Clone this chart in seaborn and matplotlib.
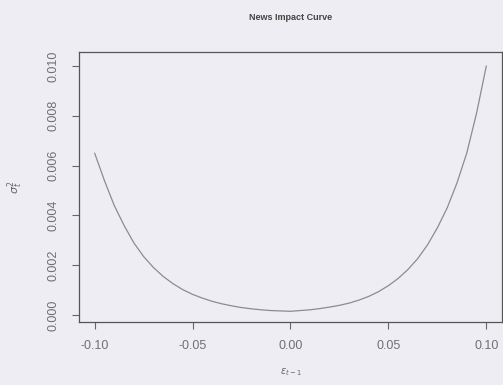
import matplotlib
matplotlib.use('Agg')
import matplotlib.pyplot as plt
import matplotlib.ticker as mticker
import seaborn as sns

# News impact curve values
shock = [-0.100, -0.095, -0.090, -0.085, -0.080, -0.075, -0.070, -0.065, -0.060, -0.055,
         -0.050, -0.045, -0.040, -0.035, -0.030, -0.025, -0.020, -0.015, -0.010, -0.005,
         0.000, 0.005, 0.010, 0.015, 0.020, 0.025, 0.030, 0.035, 0.040, 0.045,
         0.050, 0.055, 0.060, 0.065, 0.070, 0.075, 0.080, 0.085, 0.090, 0.095, 0.100]
variance = [0.0065, 0.0054, 0.0044, 0.0036, 0.0029, 0.00235, 0.00191, 0.00155, 0.00126, 0.00102,
            0.00083, 0.00068, 0.00055, 0.00045, 0.00037, 0.00030, 0.00025, 0.00021, 0.00018, 0.000165,
            0.00015, 0.00018, 0.00021, 0.00026, 0.00032, 0.00039, 0.00048, 0.00060, 0.00075, 0.00094,
            0.00118, 0.00147, 0.00183, 0.00227, 0.00282, 0.0035, 0.0043, 0.0053, 0.0065, 0.0081, 0.0100]
x_ticks = [-0.10, -0.05, 0.00, 0.05, 0.10]
y_ticks = [0.000, 0.002, 0.004, 0.006, 0.008, 0.010]

sns.set_style('white')
plt.rcParams['font.family'] = ['Liberation Sans', 'DejaVu Sans']

bg = '#eeedf4'
fig = plt.figure(figsize=(5.03, 3.85), dpi=100, facecolor=bg)
ax = fig.add_axes([0.157, 0.1636, 0.841, 0.7013], facecolor=bg)

sns.lineplot(x=shock, y=variance, ax=ax, color='#8c8c8c', linewidth=0.9)

ax.set_xlim(-0.108, 0.108)
ax.set_ylim(-0.00028, 0.01056)
ax.set_xticks(x_ticks)
ax.set_yticks(y_ticks)
ax.xaxis.set_major_formatter(mticker.FormatStrFormatter('%.2f'))
ax.yaxis.set_major_formatter(mticker.FormatStrFormatter('%.3f'))
ax.tick_params(axis='both', direction='out', length=5, width=0.8, color='#666666',
               labelcolor='#707070', labelsize=9, left=True, bottom=True)
ax.tick_params(axis='x', pad=8)
ax.tick_params(axis='y', pad=9)
plt.setp(ax.get_yticklabels(), rotation=90, va='center')

for side in ax.spines.values():
    side.set_visible(True)
    side.set_color('#555555')
    side.set_linewidth(0.9)

ax.set_title('News Impact Curve', fontsize=6.5, fontweight='bold', color='#444444', pad=23)
ax.set_xlabel(r'$\varepsilon_{t-1}$', fontsize=7, color='#666666', labelpad=10)
ax.set_ylabel(r'$\sigma_t^2$', fontsize=8, color='#666666', labelpad=16)

fig.savefig('out.png', dpi=100, facecolor=bg)
